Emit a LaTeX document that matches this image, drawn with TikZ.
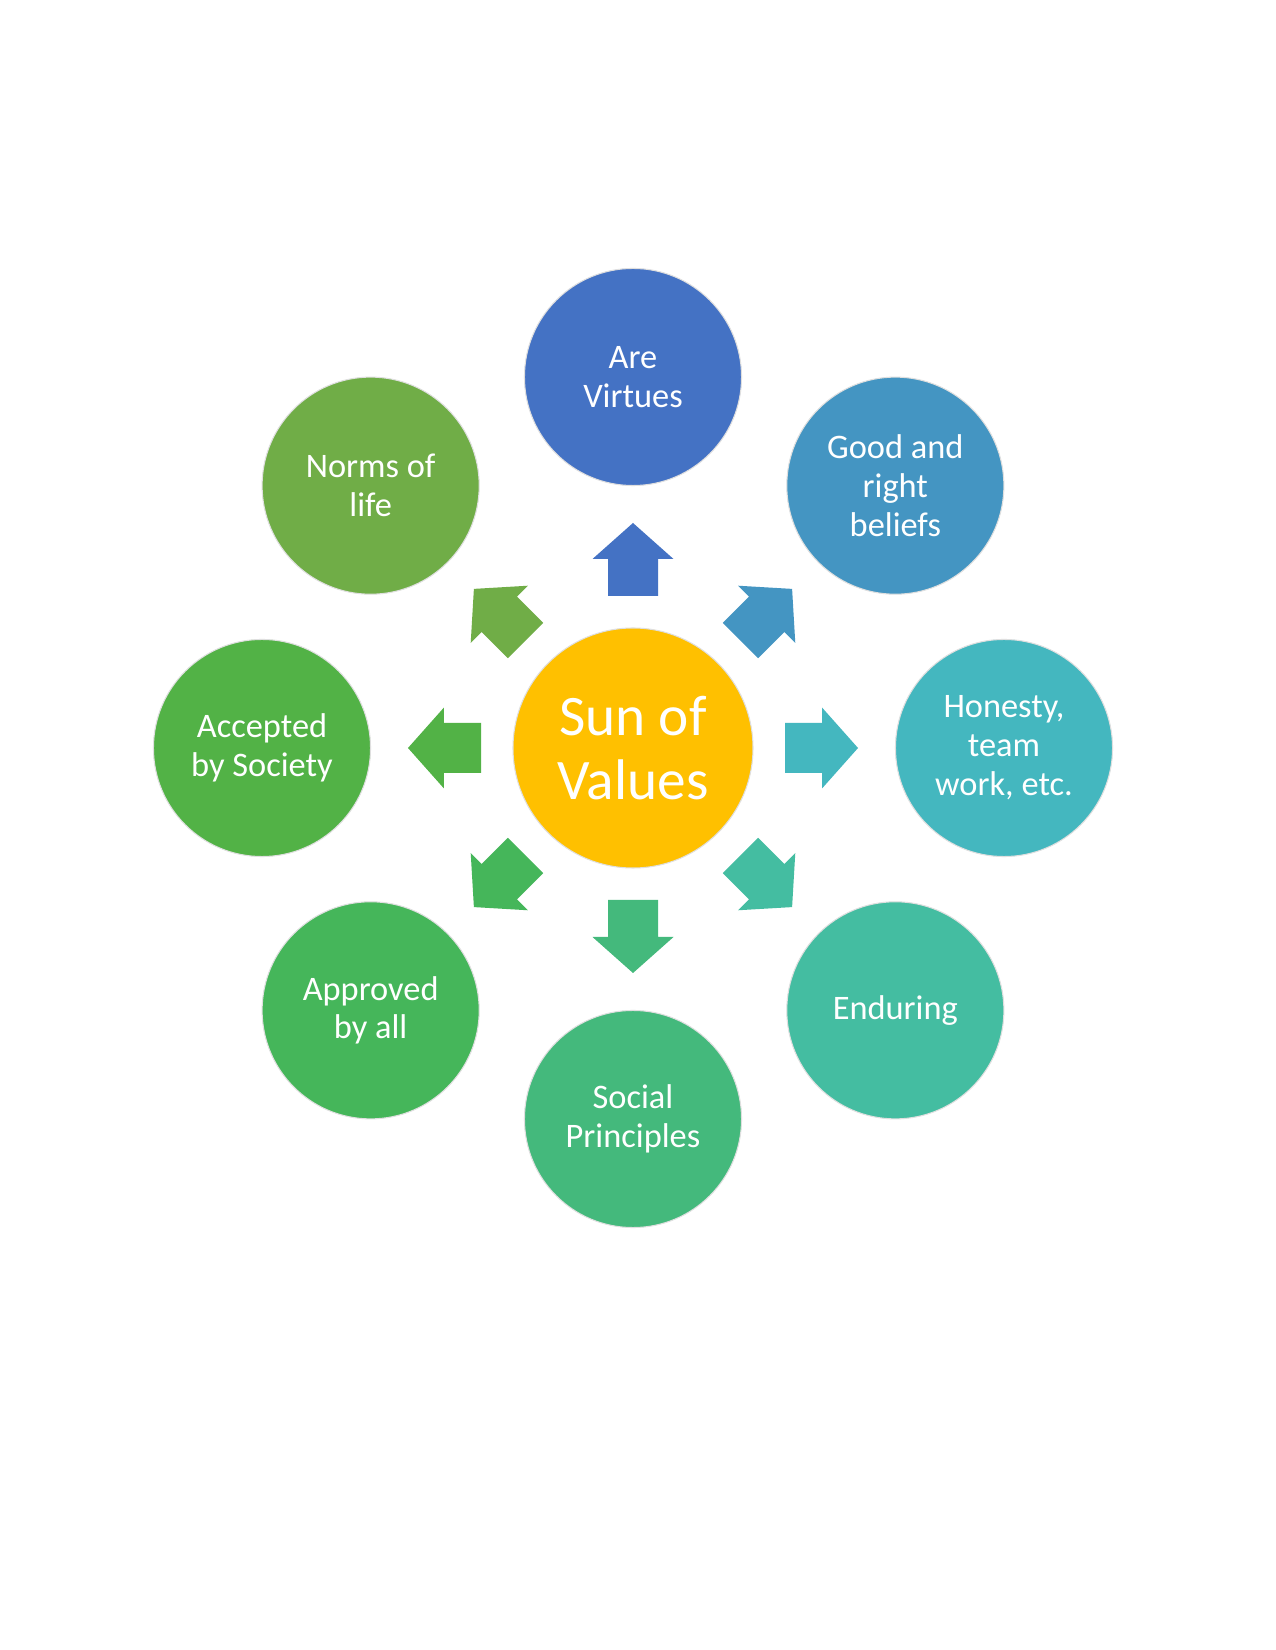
\documentclass[tikz,border=0pt]{standalone}
\usepackage{fontspec}
\setmainfont{Carlito}
\definecolor{c0}{HTML}{4472C4}
\definecolor{c1}{HTML}{4495C2}
\definecolor{c2}{HTML}{44B7BF}
\definecolor{c3}{HTML}{44BDA1}
\definecolor{c4}{HTML}{44B97C}
\definecolor{c5}{HTML}{45B65A}
\definecolor{c6}{HTML}{52B246}
\definecolor{c7}{HTML}{70AD47}
\definecolor{sun}{HTML}{FFC000}
\begin{document}
\begin{tikzpicture}[x=0.48pt,y=0.48pt,
  outer/.style={circle, minimum size=104.2pt, inner sep=0pt, draw=gray!25, line width=0.5pt,
    text=white, align=center, font=\fontsize{16.5}{18.7}\selectfont},
  sunnode/.style={circle, minimum size=115.2pt, inner sep=0pt, draw=gray!25, line width=0.5pt,
    fill=sun, text=white, align=center, font=\fontsize{27.5}{31}\selectfont}]
\useasboundingbox (-633,-902) rectangle (642,748);
\fill[white] (-633,-902) rectangle (642,748);
\node[sunnode] (sun) at (0,0) {Sun of\\Values};
\foreach \a/\c in {90/c0,45/c1,0/c2,-45/c3,-90/c4,-135/c5,180/c6,135/c7}{
  \fill[\c, rotate=\a] (152,-25) -- (189,-25) -- (189,-40.5) -- (225,0) -- (189,40.5) -- (189,25) -- (152,25) -- cycle;
}
\node[outer, fill=c0] (virtues) at (90:371) {Are\\Virtues};
\node[outer, fill=c1] (beliefs) at (45:371) {Good and\\right\\beliefs};
\node[outer, fill=c2] (honesty) at (0:371) {Honesty,\\team\\work, etc.};
\node[outer, fill=c3] (enduring) at (-45:371) {Enduring};
\node[outer, fill=c4] (social) at (-90:371) {Social\\Principles};
\node[outer, fill=c5] (approved) at (-135:371) {Approved\\by all};
\node[outer, fill=c6] (accepted) at (180:371) {Accepted\\by Society};
\node[outer, fill=c7] (norms) at (135:371) {Norms of\\life};
\end{tikzpicture}
\end{document}
